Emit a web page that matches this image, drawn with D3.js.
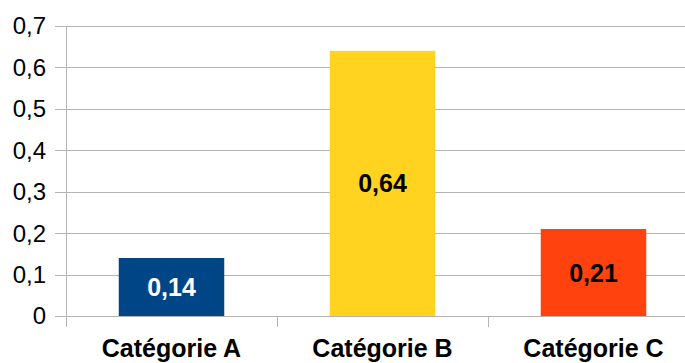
<!DOCTYPE html>
<html><head><meta charset="utf-8">
<script src="https://cdn.jsdelivr.net/npm/d3@7"></script>
<style>body{margin:0;background:#fff}svg{display:block}</style>
</head><body>
<script>
const categories = ["Catégorie A", "Catégorie B", "Catégorie C"];
const values = [0.14, 0.64, 0.21];
const colors = ["#004586", "#ffd320", "#ff420e"];
const labelColors = ["#ffffff", "#000000", "#000000"];
const yTicks = [0, 0.1, 0.2, 0.3, 0.4, 0.5, 0.6, 0.7];

const W = 685, H = 363;
const svg = d3.select("body").append("svg").attr("width", W).attr("height", H);
const x0 = 66, x1 = 699, yTop = 26, yBot = 316;
const x = d3.scaleBand().domain(categories).range([x0, x1]).paddingInner(0).paddingOuter(0);
const y = d3.scaleLinear().domain([0, 0.7]).range([yBot, yTop]);
const fmt = v => d3.format(".1~f")(v).replace(".", ",");

// gridlines
svg.append("g").selectAll("line").data(yTicks).join("line")
  .attr("x1", 55).attr("x2", W).attr("y1", d => Math.round(y(d)) + 0.5).attr("y2", d => Math.round(y(d)) + 0.5)
  .attr("stroke", "#b3b3b3").attr("stroke-width", 1);

// y axis line
svg.append("line").attr("x1", x0 + 0.5).attr("x2", x0 + 0.5).attr("y1", yTop).attr("y2", yBot + 11)
  .attr("stroke", "#b3b3b3");
// category ticks
svg.append("g").selectAll("line").data(categories.slice(1)).join("line")
  .attr("x1", d => Math.round(x(d)) + 0.5).attr("x2", d => Math.round(x(d)) + 0.5)
  .attr("y1", yBot).attr("y2", yBot + 11).attr("stroke", "#b3b3b3");

// y tick labels
svg.append("g").selectAll("text").data(yTicks).join("text")
  .attr("x", 46).attr("y", d => y(d)).attr("dy", "0.35em").attr("text-anchor", "end")
  .attr("font-family", "Liberation Sans, Arial, sans-serif").attr("font-size", 24).attr("fill", "#000")
  .text(d => d === 0 ? "0" : fmt(d));

// bars
const bw = x.bandwidth() * 0.5;
svg.append("g").selectAll("rect").data(values).join("rect")
  .attr("x", (d, i) => x(categories[i]) + (x.bandwidth() - bw) / 2)
  .attr("width", bw)
  .attr("y", d => y(d)).attr("height", d => y(0) - y(d))
  .attr("fill", (d, i) => colors[i]);

// value labels
svg.append("g").selectAll("text").data(values).join("text")
  .attr("x", (d, i) => x(categories[i]) + x.bandwidth() / 2)
  .attr("y", d => (y(d) + y(0)) / 2).attr("dy", "0.36em").attr("text-anchor", "middle")
  .attr("font-family", "Liberation Sans, Arial, sans-serif").attr("font-weight", "bold").attr("font-size", 25)
  .attr("fill", (d, i) => labelColors[i])
  .text(d => d3.format(".2f")(d).replace(".", ","));

// category labels
svg.append("g").selectAll("text").data(categories).join("text")
  .attr("x", d => x(d) + x.bandwidth() / 2).attr("y", 357).attr("text-anchor", "middle")
  .attr("font-family", "Liberation Sans, Arial, sans-serif").attr("font-weight", "bold").attr("font-size", 25)
  .attr("fill", "#000")
  .text(d => d);
</script>
</body></html>
